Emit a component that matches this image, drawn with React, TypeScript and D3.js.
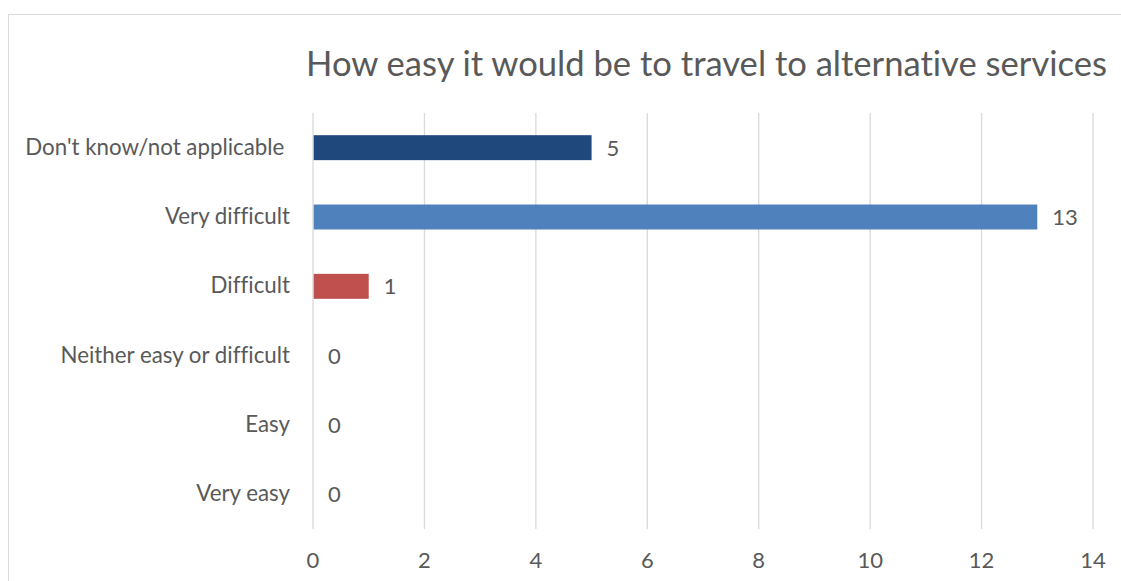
import React from "react";
import * as d3 from "d3";

const categories = [
  "Don't know/not applicable ",
  "Very difficult",
  "Difficult",
  "Neither easy or difficult",
  "Easy",
  "Very easy",
];
const values = [5, 13, 1, 0, 0, 0];
const barColors = ["#1F497D", "#4F81BD", "#C0504D", "#9BBB59", "#8064A2", "#4BACC6"];
const xTicks = [0, 2, 4, 6, 8, 10, 12, 14];
const title = "How easy it would be to travel to alternative services";

const W = 1121;
const H = 581;
const FONT = "Lato, 'Open Sans', sans-serif";
const TEXT = "#595959";
const GRID = "#D9D9D9";

export default function App() {
  const x = d3.scaleLinear().domain([0, 14]).range([313, 1093]);
  const y = d3
    .scaleBand<string>()
    .domain(categories)
    .range([113, 529])
    .paddingInner(0.64)
    .paddingOuter(0.32);
  const [y0, y1] = y.range();

  return (
    <div style={{ position: "fixed", left: 0, top: 0, width: W, height: H, background: "#fff" }}>
      <svg
        width={W}
        height={H}
        style={{ display: "block", fontFamily: FONT, fontVariantLigatures: "none" }}
      >
        <rect x={8.5} y={14.5} width={W + 20} height={H + 20} fill="#fff" stroke={GRID} strokeWidth={1} />
        <text x={706.5} y={76} textAnchor="middle" fontSize={34.6} fill={TEXT}>
          {title}
        </text>
        {xTicks.map((t) => (
          <g key={t}>
            <line x1={x(t)} x2={x(t)} y1={y0} y2={y1} stroke={GRID} strokeWidth={1.3} />
            <text x={x(t)} y={568} textAnchor="middle" fontSize={22} fill={TEXT}>
              {t}
            </text>
          </g>
        ))}
        {categories.map((c, i) => {
          const by = y(c)!;
          const cy = by + y.bandwidth() / 2;
          return (
            <g key={c}>
              {values[i] > 0 && (
                <rect
                  x={x(0) + 0.7}
                  y={by}
                  width={x(values[i]) - x(0) - 0.7}
                  height={y.bandwidth()}
                  fill={barColors[i]}
                />
              )}
              <text
                x={290}
                y={cy + 7}
                textAnchor="end"
                fontSize={22.3}
                fill={TEXT}
                style={{ whiteSpace: "pre" }}
              >
                {c}
              </text>
              <text x={x(values[i]) + 15} y={cy + 8} fontSize={22} fill={TEXT}>
                {values[i]}
              </text>
            </g>
          );
        })}
      </svg>
    </div>
  );
}
